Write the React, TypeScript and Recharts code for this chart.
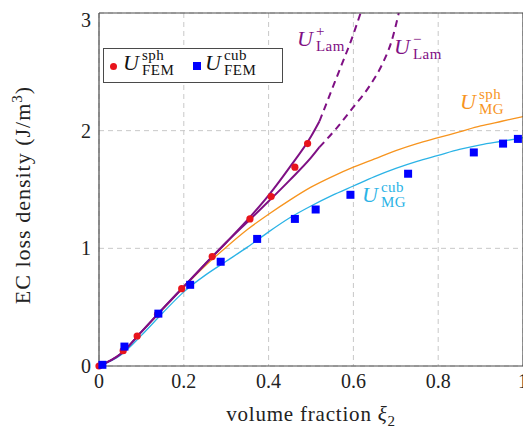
import React from 'react';
import { ComposedChart, Line, Scatter, XAxis, YAxis, CartesianGrid, ReferenceLine } from 'recharts';

const serif = '"Liberation Serif", "Times New Roman", Tinos, "DejaVu Serif", "Noto Serif", FreeSerif, Times, serif';

const xTicks = [0, 0.2, 0.4, 0.6, 0.8, 1];
const yTicks = [0, 1, 2, 3];

// FEM results (markers)
const femSphX = [0, 0.057, 0.09, 0.138, 0.195, 0.267, 0.356, 0.406, 0.462, 0.492];
const femSphY = [0, 0.13, 0.255, 0.44, 0.657, 0.93, 1.25, 1.44, 1.69, 1.89];
const femCubX = [0.008, 0.06, 0.14, 0.215, 0.287, 0.373, 0.462, 0.511, 0.593, 0.729, 0.884, 0.953, 0.988];
const femCubY = [0.01, 0.165, 0.445, 0.69, 0.886, 1.08, 1.25, 1.33, 1.455, 1.634, 1.815, 1.89, 1.93];

// laminate bounds, solid part
const lamX = [0, 0.05, 0.1, 0.15, 0.2, 0.25, 0.3, 0.356, 0.4, 0.45, 0.5, 0.52];
const lamPlus = [0, 0.1, 0.29, 0.485, 0.675, 0.865, 1.05, 1.265, 1.45, 1.69, 1.95, 2.08];
const lamMinus = [0, 0.1, 0.29, 0.485, 0.675, 0.865, 1.05, 1.245, 1.4, 1.58, 1.77, 1.86];

// laminate bounds, dashed continuation
const lamPlusDashX = [0.52, 0.545, 0.57, 0.595, 0.617];
const lamPlusDash = [2.08, 2.31, 2.54, 2.77, 3.0];
const lamMinusDashX = [0.52, 0.56, 0.6, 0.64, 0.67, 0.69, 0.707];
const lamMinusDash = [1.86, 2.02, 2.2, 2.39, 2.58, 2.76, 3.0];

// Maxwell-Garnett
const mgX = [0, 0.05, 0.1, 0.15, 0.2, 0.25, 0.3, 0.35, 0.4, 0.45, 0.5, 0.55, 0.6, 0.65, 0.7, 0.75, 0.8, 0.85, 0.9, 0.95, 1];
const mgSph = [0, 0.1, 0.29, 0.48, 0.67, 0.85, 1.01, 1.16, 1.29, 1.41, 1.52, 1.61, 1.69, 1.76, 1.83, 1.89, 1.94, 1.99, 2.04, 2.08, 2.12];
const mgCub = [0, 0.09, 0.26, 0.45, 0.63, 0.77, 0.89, 1.01, 1.14, 1.26, 1.36, 1.45, 1.53, 1.61, 1.68, 1.74, 1.79, 1.84, 1.88, 1.91, 1.94];

const pts = (xs: number[], ys: number[]) => xs.map((x, i) => ({ x, y: ys[i] }));

const PURPLE = '#7f1084';
const ORANGE = '#f7941e';
const CYAN = '#2bb3e6';
const RED = '#e8141c';
const BLUE = '#0000ff';

const W = 523;
const H = 421;

const RedDot = (p: any) => <circle cx={p.cx} cy={p.cy} r={3.6} fill={RED} />;
const BlueSq = (p: any) => <rect x={p.cx - 4} y={p.cy - 4} width={8} height={8} fill={BLUE} />;

function MathLabel({ x, capTop, sup, sub, color }: { x: number; capTop: number; sup: string; sub: string; color: string }) {
  return (
    <div
      style={{
        position: 'absolute',
        left: x,
        top: capTop - 3.9,
        display: 'flex',
        alignItems: 'flex-start',
        color,
        fontFamily: serif,
        whiteSpace: 'nowrap',
        pointerEvents: 'none',
      }}
    >
      <span style={{ fontStyle: 'italic', fontSize: 22, lineHeight: '22px' }}>U</span>
      <span
        style={{
          display: 'flex',
          flexDirection: 'column',
          fontSize: 15,
          lineHeight: '15px',
          marginTop: -3.7,
          marginLeft: 3,
          letterSpacing: 0.5,
        }}
      >
        <span>{sup}</span>
        <span>{sub}</span>
      </span>
    </div>
  );
}

export default function App() {
  // overlay coordinates are page coordinates minus the 8px body margin
  const o = (v: number) => v - 8;
  return (
    <div style={{ position: 'relative', width: W, height: H }}>
      <ComposedChart width={W} height={H} margin={{ top: 5, right: 8, bottom: 0, left: 0 }}>
        <CartesianGrid stroke="#c8c8c8" strokeDasharray="5 4" />
        <XAxis
          type="number"
          dataKey="x"
          domain={[0, 1]}
          ticks={xTicks}
          tickFormatter={(v) => String(v)}
          axisLine={false}
          tickLine={false}
          height={63}
          tick={{ fontFamily: serif, fontSize: 20, fill: '#222' }}
          label={{
            content: () => (
              <text x={303} y={413} textAnchor="middle" fontFamily={serif} fontSize={21} letterSpacing={0.8} fill="#222">
                volume fraction <tspan fontStyle="italic">ξ</tspan>
                <tspan dy={5} fontSize={15}>2</tspan>
              </text>
            ),
          }}
        />
        <YAxis
          type="number"
          domain={[0, 3]}
          ticks={yTicks}
          axisLine={false}
          tickLine={false}
          width={91}
          tick={{ fontFamily: serif, fontSize: 20, fill: '#222' }}
          label={{
            content: () => (
              <text
                x={22}
                y={187}
                textAnchor="middle"
                transform="rotate(-90 22 187)"
                fontFamily={serif}
                fontSize={22}
                letterSpacing={1}
                fill="#222"
              >
                EC loss density (J/m<tspan dy={-8} fontSize={15}>3</tspan>
                <tspan dy={8}>)</tspan>
              </text>
            ),
          }}
        />
        <Line data={pts(mgX, mgSph)} dataKey="y" type="monotone" stroke={ORANGE} strokeWidth={1.3} dot={false} isAnimationActive={false} />
        <Line data={pts(mgX, mgCub)} dataKey="y" type="monotone" stroke={CYAN} strokeWidth={1.3} dot={false} isAnimationActive={false} />
        <Line data={pts(lamX, lamMinus)} dataKey="y" type="monotone" stroke={PURPLE} strokeWidth={2} dot={false} isAnimationActive={false} />
        <Line data={pts(lamX, lamPlus)} dataKey="y" type="monotone" stroke={PURPLE} strokeWidth={2} dot={false} isAnimationActive={false} />
        <Line data={pts(lamMinusDashX, lamMinusDash)} dataKey="y" type="monotone" stroke={PURPLE} strokeWidth={2} strokeDasharray="7 5" dot={false} isAnimationActive={false} />
        <Line data={pts(lamPlusDashX, lamPlusDash)} dataKey="y" type="monotone" stroke={PURPLE} strokeWidth={2} strokeDasharray="7 5" dot={false} isAnimationActive={false} />
        <ReferenceLine x={0} stroke="#4a4a4a" strokeWidth={1.2} />
        <ReferenceLine x={1} stroke="#4a4a4a" strokeWidth={1.2} />
        <ReferenceLine y={0} stroke="#4a4a4a" strokeWidth={1.2} />
        <ReferenceLine y={3} stroke="#4a4a4a" strokeWidth={1.2} />
        <Scatter data={pts(femSphX, femSphY)} dataKey="y" shape={RedDot} isAnimationActive={false} />
        <Scatter data={pts(femCubX, femCubY)} dataKey="y" shape={BlueSq} isAnimationActive={false} />
      </ComposedChart>

      {/* legend */}
      <div
        style={{
          position: 'absolute',
          left: o(103),
          top: o(48),
          width: 180,
          height: 35,
          border: '1px solid #4a4a4a',
          background: '#fff',
          boxSizing: 'border-box',
        }}
      >
        <div style={{ position: 'absolute', left: 113 - 103 - 1 - 3.5, top: 66 - 48 - 1 - 3.5, width: 7, height: 7, borderRadius: '50%', background: RED }} />
        <div style={{ position: 'absolute', left: 197 - 103 - 1 - 4, top: 66 - 48 - 1 - 4, width: 8, height: 8, background: BLUE }} />
      </div>
      <MathLabel x={o(123)} capTop={o(56)} sup="sph" sub="FEM" color="#111" />
      <MathLabel x={o(205)} capTop={o(56)} sup="cub" sub="FEM" color="#111" />

      {/* curve labels */}
      <MathLabel x={o(297)} capTop={o(32)} sup="+" sub="Lam" color={PURPLE} />
      <MathLabel x={o(394)} capTop={o(40)} sup="−" sub="Lam" color={PURPLE} />
      <MathLabel x={o(460)} capTop={o(95)} sup="sph" sub="MG" color={ORANGE} />
      <MathLabel x={o(362)} capTop={o(188)} sup="cub" sub="MG" color={CYAN} />
    </div>
  );
}
